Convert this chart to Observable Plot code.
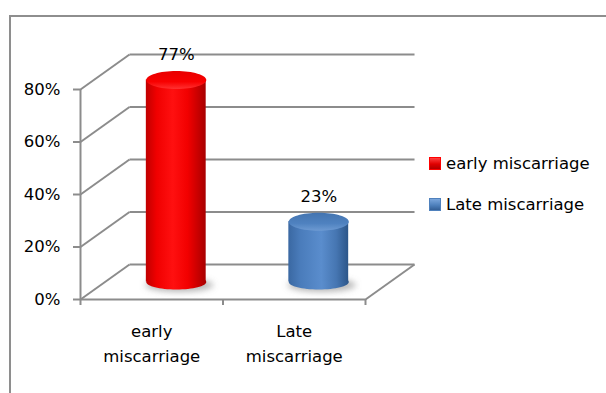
<!DOCTYPE html>
<html>
<head>
<meta charset="utf-8">
<script src="https://cdn.jsdelivr.net/npm/d3@7"></script>
<script src="https://cdn.jsdelivr.net/npm/@observablehq/plot@0.6"></script>
<style>
  html, body { margin: 0; padding: 0; background: #fff; }
  #wrap { position: relative; width: 606px; height: 393px; overflow: hidden; background: #fff; font-family: "DejaVu Sans", sans-serif; }
  #frame { position: absolute; left: 9px; top: 15px; width: 700px; height: 500px; border-top: 2px solid #8e8e8e; border-left: 2px solid #8e8e8e; box-sizing: border-box; }
  #chart { position: absolute; left: 0; top: 0; }
  .item { position: absolute; left: 429px; display: flex; align-items: center; font-size: 16.5px; color: #000; white-space: nowrap; }
  .sw { width: 12px; height: 13px; margin-right: 5px; }
</style>
</head>
<body>
<div id="wrap">
  <div id="frame"></div>
  <div id="chart"></div>
</div>
<script>
// ---- data ----
const categories = ["early miscarriage", "Late miscarriage"];
const values = [0.77, 0.23];
const yTicks = [0, 0.2, 0.4, 0.6, 0.8];
const xTicks = [0, 1, 2];
const seriesColors = ["#ff0000", "#4f81bd"];

// ---- 3D geometry (in data units) ----
const DX = 0.344;   // depth offset along x (category units)
const DY = 0.1333;  // depth offset along y (value units)
const RW = 0.21;    // cylinder half width (category units)
const grid = "#8c8c8c";
const fmt = d3.format(".0%");

const data = categories.map((c, i) => ({c, i, v: values[i]}));
const cx = d => d.i + 0.5 + DX / 2;

function ellipse(k) {
  return {
    draw(ctx, size) {
      const rx = Math.sqrt(size / Math.PI), ry = rx * k, c = 0.5523;
      ctx.moveTo(rx, 0);
      ctx.bezierCurveTo(rx, ry * c, rx * c, ry, 0, ry);
      ctx.bezierCurveTo(-rx * c, ry, -rx, ry * c, -rx, 0);
      ctx.bezierCurveTo(-rx, -ry * c, -rx * c, -ry, 0, -ry);
      ctx.bezierCurveTo(rx * c, -ry, rx, -ry * c, rx, 0);
      ctx.closePath();
    }
  };
}

const svg = Plot.plot({
  width: 606,
  height: 393,
  marginLeft: 80,
  marginRight: 241,
  marginTop: 89,
  marginBottom: 94,
  style: {fontFamily: "DejaVu Sans, sans-serif", fontSize: "16.5px", color: "#000", background: "transparent", overflow: "visible"},
  x: {type: "linear", domain: [0, 2]},
  y: {type: "linear", domain: [0, 0.8]},
  color: {type: "identity"},
  marks: [
    // back wall gridlines
    Plot.link(yTicks, {x1: DX, x2: 2 + DX, y1: d => d + DY, y2: d => d + DY, stroke: grid, strokeWidth: 2}),
    // side wall diagonals
    Plot.link(yTicks, {x1: 0, y1: d => d, x2: DX, y2: d => d + DY, stroke: grid, strokeWidth: 2}),
    // floor right edge
    Plot.link([2], {x1: d => d, y1: 0, x2: d => d + DX, y2: DY, stroke: grid, strokeWidth: 2}),
    // floor front edge
    Plot.ruleY([0], {x1: 0, x2: 2, stroke: grid, strokeWidth: 2}),
    // front value axis line
    Plot.ruleX([0], {y1: 0, y2: yTicks[yTicks.length - 1], stroke: grid, strokeWidth: 2}),
    Plot.axisY({ticks: yTicks, tickSize: 7, tickPadding: 13, tickFormat: fmt, stroke: grid, strokeWidth: 2, fill: "#000", label: null}),
    Plot.axisX({ticks: xTicks, tickSize: 6, tickFormat: () => "", stroke: grid, strokeWidth: 2, label: null}),
    // shadows
    Plot.dot(data, {x: cx, y: DY / 2, r: 34, symbol: ellipse(0.2), fill: "#7a7a7a", fillOpacity: 0.55, dx: 3, dy: 3, ariaDescription: "shadow"}),
    // cylinder bottoms
    Plot.dot(data, {x: cx, y: DY / 2, r: 30, symbol: ellipse(0.25), fill: d => `url(#body${d.i})`}),
    // cylinder bodies
    Plot.rect(data, {x1: d => cx(d) - RW, x2: d => cx(d) + RW, y1: DY / 2, y2: d => d.v + DY / 2, fill: d => `url(#body${d.i})`}),
    // cylinder tops
    Plot.dot(data, {x: cx, y: d => d.v + DY / 2, r: 30, symbol: ellipse(0.3), fill: d => `url(#top${d.i})`}),
    // value labels
    Plot.text(data, {x: cx, y: d => d.v + DY / 2, text: d => fmt(d.v), dy: -25, fill: "#000"}),
    // category labels
    Plot.text(data, {x: d => d.i + 0.5, y: 0, text: d => d.c.replace(" ", "\n"), dy: 42, lineHeight: 1.515, fill: "#000"})
  ]
});

// gradients & filters
const defs = d3.select(svg).insert("defs", ":first-child");
const bodyStops = [
  [["0%", "#c00000"], ["18%", "#f00000"], ["45%", "#ff1010"], ["70%", "#f20000"], ["100%", "#a80000"]],
  [["0%", "#3a68a2"], ["20%", "#4a7cbb"], ["55%", "#5a8dcd"], ["80%", "#4676b2"], ["100%", "#2c5689"]]
];
const topStops = [
  [["0%", "#e80000"], ["60%", "#f80000"], ["100%", "#ff3030"]],
  [["0%", "#4474b0"], ["60%", "#4f82c0"], ["100%", "#6d9ad2"]]
];
bodyStops.forEach((stops, i) => {
  const g = defs.append("linearGradient").attr("id", `body${i}`).attr("x1", 0).attr("x2", 1).attr("y1", 0).attr("y2", 0);
  stops.forEach(([o, c]) => g.append("stop").attr("offset", o).attr("stop-color", c));
});
topStops.forEach((stops, i) => {
  const g = defs.append("linearGradient").attr("id", `top${i}`).attr("x1", 0).attr("x2", 0).attr("y1", 0).attr("y2", 1);
  stops.forEach(([o, c]) => g.append("stop").attr("offset", o).attr("stop-color", c));
});
const f = defs.append("filter").attr("id", "blur").attr("x", "-50%").attr("y", "-100%").attr("width", "200%").attr("height", "300%");
f.append("feGaussianBlur").attr("stdDeviation", 3);
d3.select(svg).selectAll('g[aria-description="shadow"]').attr("filter", "url(#blur)");

document.getElementById("chart").appendChild(svg);

// legend (HTML)
const swatchGrad = [
  "linear-gradient(#ff4040, #e00000 55%, #b00000)",
  "linear-gradient(#7aa6dc, #4f81bd 55%, #335f96)"
];
const wrap = document.getElementById("wrap");
categories.forEach((c, i) => {
  const item = document.createElement("div");
  item.className = "item";
  item.style.top = (154 + i * 41) + "px";
  const sw = document.createElement("div");
  sw.className = "sw";
  sw.style.background = swatchGrad[i];
  sw.style.border = "1px solid " + seriesColors[i];
  sw.style.boxSizing = "border-box";
  const t = document.createElement("span");
  t.textContent = c;
  item.appendChild(sw);
  item.appendChild(t);
  wrap.appendChild(item);
});
</script>
</body>
</html>
